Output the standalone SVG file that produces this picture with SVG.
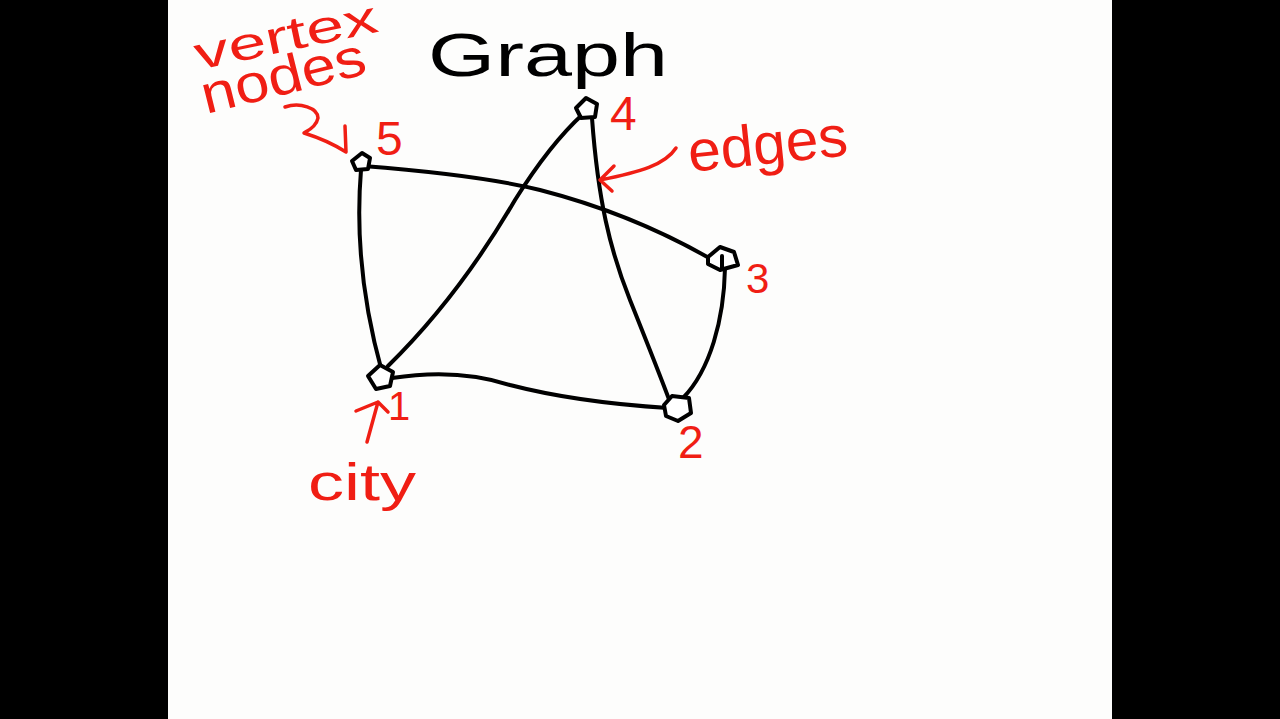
<svg xmlns="http://www.w3.org/2000/svg" width="1280" height="719" viewBox="0 0 1280 719">
<style>
.edge{fill:none;stroke:#000;stroke-width:4;stroke-linecap:round;stroke-linejoin:round}
.node{fill:#fff;stroke:#000;stroke-width:4;stroke-linejoin:round}
.ann{fill:none;stroke:#f01e14;stroke-width:3.5;stroke-linecap:round;stroke-linejoin:round}
.red{fill:#f01e14;font-family:"Liberation Sans","DejaVu Sans",sans-serif}
.blk{fill:#000;font-family:"Liberation Sans","DejaVu Sans",sans-serif}
</style>
<rect x="0" y="0" width="1280" height="719" fill="#000"/>
<rect x="168" y="0" width="944" height="719" fill="#fdfdfc"/>
<g id="connectors">
<path class="edge" d="M363 166 C440 172 500 180 540 190 C610 208 670 235 716 262"/>
<path class="edge" d="M361 170 C356 230 362 300 382 372"/>
<path class="edge" d="M388 366 C440 315 480 260 515 200 C540 160 560 135 583 114"/>
<path class="edge" d="M592 118 C598 200 610 250 630 300 C648 345 660 375 670 402"/>
<path class="edge" d="M725 268 C724 320 710 370 683 398"/>
<path class="edge" d="M392 378 C430 372 470 372 510 385 C560 398 620 405 668 408"/>
</g>
<g id="node5"><path class="node" d="M352 161 L362 153 L370 158 L368 169 L356 170 Z"/><text class="red" x="376" y="155" font-size="48">5</text></g>
<g id="node4"><path class="node" d="M576 108 L586 98 L597 104 L595 117 L581 118 Z"/><text class="red" x="610" y="130" font-size="48">4</text></g>
<g id="node3"><path class="node" d="M708 257 L720 247 L734 252 L738 265 L720 270 L708 264 Z"/><path class="edge" d="M722 256 L722 268"/><text class="red" x="746" y="293" font-size="42">3</text></g>
<g id="node1"><path class="node" d="M368 376 L380 365 L393 372 L390 386 L376 389 Z"/><text class="red" x="388" y="420" font-size="40">1</text></g>
<g id="node2"><path class="node" d="M664 405 L672 396 L689 398 L691 413 L678 421 L666 416 Z"/><text class="red" x="678" y="458" font-size="46">2</text></g>
<g id="title"><text class="blk" x="428" y="76" font-size="62" textLength="240" lengthAdjust="spacingAndGlyphs">Graph</text></g>
<g id="label-vertex"><text class="red" x="198" y="70" font-size="46" transform="rotate(-12 198 70)" textLength="186" lengthAdjust="spacingAndGlyphs">vertex</text></g>
<g id="label-nodes"><text class="red" x="206" y="114" font-size="54" transform="rotate(-14 206 114)" textLength="168" lengthAdjust="spacingAndGlyphs">nodes</text></g>
<g id="label-edges"><text class="red" x="690" y="172" font-size="58" transform="rotate(-6 690 172)" textLength="160" lengthAdjust="spacingAndGlyphs">edges</text></g>
<g id="label-city"><text class="red" x="308" y="500" font-size="52" textLength="108" lengthAdjust="spacingAndGlyphs">city</text></g>
<g id="annotations">
<path class="ann" d="M285 107 C300 102 318 108 318 118 C316 128 305 132 304 133 C320 138 335 145 346 152 M346 152 L345 126"/>
<path class="ann" d="M676 148 C665 165 640 172 600 180 M600 180 L614 166 M600 180 L612 191"/>
<path class="ann" d="M367 442 L378 402 M378 402 L356 411 M378 402 L388 412"/>
</g>
</svg>
